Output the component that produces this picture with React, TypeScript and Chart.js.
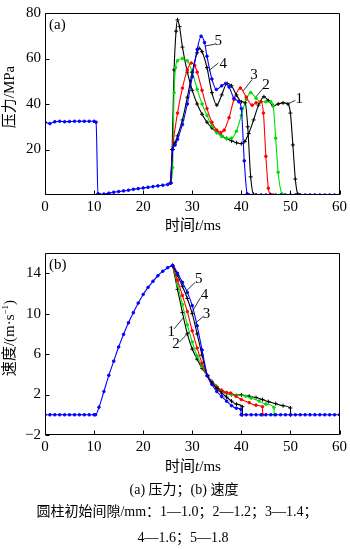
import React, { useEffect, useRef } from "react";
import { Chart, registerables } from "chart.js";

Chart.register(...registerables);

type P = [number, number];

// ---------- tick values ----------
const timeTicks = [0, 10, 20, 30, 40, 50, 60];
const pressureTicks = [20, 40, 60, 80];
const velocityTicks = [-2, 2, 6, 10, 14];

// ---------- series names / colours ----------
const seriesNames = ["1", "2", "3", "4", "5"];
const seriesColors = ["#000000", "#00dd00", "#ff0000", "#000000", "#0000ff"];

// ---------- (a) pressure, MPa : [t ms, p] ----------
const pressure1: P[] = [[25.6, 5.3], [25.9, 20], [26.3, 55], [26.7, 72], [27, 77], [27.4, 74], [28, 65], [29, 54], [30, 46], [31, 40], [32, 35.5], [33, 32], [34, 29.5], [35, 27.5], [36, 26], [37, 24.8], [38, 23.8], [39, 23], [40, 22.6], [40.7, 23.5], [41.5, 27], [42.5, 33], [43.5, 39.5], [44.6, 43.2], [45.5, 41.5], [46.5, 39.3], [47.5, 40], [48.5, 40.5], [49.5, 40], [50, 36], [50.5, 22], [51, 7], [51.5, 0.5], [52, 0]];
const pressure2: P[] = [[25.6, 5.3], [26, 12], [26.3, 45], [26.6, 56], [27, 59], [28, 60], [29, 59], [30, 54], [31, 46.5], [32, 40], [33, 35], [34, 30.5], [35, 27.5], [36, 25.7], [37, 24.8], [38, 25], [39, 28], [40, 35], [41, 42], [41.9, 45], [43, 42.5], [44, 41], [45, 41], [46, 41], [46.5, 39], [47, 25], [47.5, 10], [48.3, 0.5], [48.8, 0]];
const pressure3: P[] = [[25.6, 5.3], [26, 20], [27, 36], [28, 47], [29, 55], [29.8, 58], [30.5, 57], [31, 54], [32, 46], [33, 38], [34, 32], [35, 28.5], [35.8, 27.5], [36.5, 28.5], [37.5, 34], [38.5, 42], [39.8, 47], [41, 43], [42.2, 39.5], [43, 40.5], [44, 41], [44.5, 36], [45, 17], [45.5, 3], [45.9, 0.3], [46.5, 0]];
const pressure4: P[] = [[25.6, 5.3], [26, 20], [26.5, 23], [27, 26], [28, 33], [29, 43], [30, 54], [31, 62.5], [31.4, 64.5], [32, 63], [33, 56], [34, 45], [35, 39.5], [36, 44], [37.1, 49], [38, 48], [39, 44], [40, 41], [40.8, 40.5], [41.3, 30], [41.9, 8], [42.5, 0.3], [43, 0]];
const pressure5: P[] = [[0, 32.0], [1, 31.4], [2, 32.2], [3, 32.4], [4, 32.2], [5, 32.3], [6, 32.4], [7, 32.4], [8, 32.4], [9, 32.4], [10, 32.4], [10.4, 32.0], [10.8, 0.5], [11.2, 0.2], [12, 0.4], [13, 0.8], [14, 1.2], [15, 1.5], [16, 1.8], [17, 2.1], [18, 2.5], [19, 2.8], [20, 3.1], [21, 3.4], [22, 3.7], [23, 4.0], [24, 4.3], [25, 4.6], [25.6, 5.3], [26, 20], [26.5, 22], [27, 24.5], [28, 31], [29, 40], [30, 52], [31, 64], [31.8, 69.8], [32.5, 67], [33, 61], [34, 51], [34.9, 46.4], [36, 48], [36.8, 49], [37.5, 47.5], [38.5, 42.5], [39.5, 41], [40, 38], [40.6, 15], [41.2, 0.5], [41.6, 0], [43, 0], [44, 0], [45, 0], [46, 0], [47, 0], [48, 0], [49, 0], [50, 0], [51, 0], [52, 0], [53, 0], [54, 0], [55, 0], [56, 0], [57, 0], [58, 0], [59, 0], [60, 0]];

// ---------- (b) velocity, m/s : [t ms, v] ----------
const velocity1: P[] = [[26, 14.75], [27, 12.4], [28, 10.1], [29, 8.0], [30, 6.5], [31, 5.5], [32, 4.6], [33.1, 3.85], [34, 3.3], [35, 2.8], [36, 2.4], [37, 2.1], [38, 2.0], [40, 1.95], [41.6, 1.84], [43, 1.7], [44.3, 1.5], [45.5, 1.3], [47, 1.1], [48.5, 0.9], [50, 0.67], [50.05, 0]];
const velocity2: P[] = [[26, 14.75], [27, 12.9], [28, 10.9], [29, 8.9], [30, 7.2], [31, 5.8], [32, 4.8], [33.1, 3.85], [34, 3.25], [35, 2.75], [36, 2.4], [37, 2.15], [38, 2.0], [39, 1.95], [40.9, 1.84], [42, 1.65], [43.6, 1.36], [45, 1.05], [46.65, 0.72], [46.7, 0]];
const velocity3: P[] = [[26, 14.75], [27, 13.3], [28, 11.8], [29, 10.2], [30, 8.3], [31, 6.6], [32, 5.1], [33.1, 3.85], [34, 3.2], [35, 2.7], [36, 2.4], [37, 2.2], [37.8, 2.15], [38.9, 1.84], [40, 1.5], [41.6, 1.2], [43, 0.95], [44.3, 0.8], [44.35, 0]];
const velocity4: P[] = [[26, 14.75], [27, 13.8], [28, 12.7], [29, 11.5], [30, 10.0], [31, 8.0], [32, 5.9], [33.1, 3.85], [34, 3.15], [35, 2.6], [36, 2.15], [37, 1.75], [38, 1.35], [39, 1.05], [40.2, 0.8], [40.25, 0]];
const velocity5: P[] = [[0, 0], [1, 0], [2, 0], [3, 0], [4, 0], [5, 0], [6, 0], [7, 0], [8, 0], [9, 0], [10, 0], [10.3, 0], [11, 0.75], [12, 2.3], [13, 3.9], [14, 5.3], [15, 6.7], [16, 7.95], [17, 9.1], [18, 10.1], [19, 11.05], [20, 11.9], [21, 12.6], [22, 13.2], [23, 13.75], [24, 14.2], [25, 14.55], [26, 14.75], [27, 14.0], [28, 13.1], [29, 12.1], [30, 10.8], [31, 8.8], [32, 6.4], [33.1, 3.85], [34, 3.0], [35, 2.3], [36, 1.8], [37, 1.35], [38, 0.9], [39, 0.65], [39.9, 0.55], [39.95, 0], [41, 0], [42, 0], [43, 0], [44, 0], [45, 0], [46, 0], [47, 0], [48, 0], [49, 0], [50, 0], [51, 0], [52, 0], [53, 0], [54, 0], [55, 0], [56, 0], [57, 0], [58, 0], [59, 0], [60, 0]];

// ---------- curve labels (text pos, leader start, leader end, in data units) ----------
type Note = { text: string; at: P; from: P; to: P };
const pressureNotes: Note[] = [
  { text: "5", at: [35.3, 67.6], from: [34.6, 66.3], to: [32.7, 65.5] },
  { text: "4", at: [36.3, 57.6], from: [35.3, 58.0], to: [33.3, 54.5] },
  { text: "3", at: [42.6, 52.7], from: [42.2, 50.8], to: [40.4, 45.8] },
  { text: "2", at: [45.0, 48.5], from: [44.5, 47.1], to: [43.0, 43.2] },
  { text: "1", at: [51.8, 42.2], from: [51.0, 41.6], to: [49.6, 40.2] },
];
const velocityNotes: Note[] = [
  { text: "5", at: [31.3, 13.4], from: [30.6, 13.1], to: [28.9, 12.3] },
  { text: "4", at: [32.5, 11.85], from: [31.7, 11.6], to: [30.0, 10.2] },
  { text: "3", at: [32.9, 10.0], from: [32.2, 9.7], to: [30.5, 9.0] },
  { text: "1", at: [25.7, 8.2], from: [26.3, 8.5], to: [28.2, 9.6] },
  { text: "2", at: [26.7, 6.97], from: [27.4, 7.2], to: [29.4, 8.2] },
];

const SERIF = "'Liberation Serif', 'Times New Roman', 'Noto Sans CJK SC', serif";

const framePlugin = {
  id: "frame",
  afterDraw(chart: any, _args: any, opts: any) {
    const { ctx, chartArea: a, scales } = chart;
    const L = Math.round(a.left) + 0.5;
    const R = Math.round(a.right) - 0.5;
    const T = Math.round(a.top) + 0.5;
    const B = Math.round(a.bottom) - 0.5;
    ctx.save();
    ctx.strokeStyle = "#000";
    ctx.lineWidth = 1;
    ctx.beginPath();
    ctx.rect(L, T, R - L, B - T);
    ctx.stroke();
    ctx.beginPath();
    for (const t of scales.x.ticks) {
      const px = Math.round(scales.x.getPixelForValue(t.value)) + 0.5;
      ctx.moveTo(px, B);
      ctx.lineTo(px, B - 4);
    }
    for (const t of scales.y.ticks) {
      const py = Math.round(scales.y.getPixelForValue(t.value)) + 0.5;
      ctx.moveTo(L, py);
      ctx.lineTo(L + 4, py);
    }
    ctx.stroke();
    ctx.fillStyle = "#000";
    ctx.font = `15px ${SERIF}`;
    ctx.textAlign = "left";
    ctx.textBaseline = "middle";
    ctx.fillText(opts.tag, L + 3.5, T + 12);
    ctx.textAlign = "center";
    ctx.lineWidth = 0.8;
    for (const n of opts.notes as Note[]) {
      const x1 = scales.x.getPixelForValue(n.from[0]);
      const y1 = scales.y.getPixelForValue(n.from[1]);
      const x2 = scales.x.getPixelForValue(n.to[0]);
      const y2 = scales.y.getPixelForValue(n.to[1]);
      ctx.beginPath();
      ctx.moveTo(x1, y1);
      ctx.lineTo(x2, y2);
      ctx.stroke();
      ctx.fillText(n.text, scales.x.getPixelForValue(n.at[0]), scales.y.getPixelForValue(n.at[1]));
    }
    ctx.restore();
  },
};

function makeConfig(
  series: P[][],
  yMin: number,
  yMax: number,
  yTicks: number[],
  tag: string,
  notes: Note[],
  padTop: number,
  xHeight: number
): any {
  const orders = [4, 3, 2, 1, 0];
  const datasets = series.map((s, i) => {
    const black = seriesColors[i] === "#000000";
    return {
      label: seriesNames[i],
      data: s.map(([x, y]) => ({ x, y })),
      borderColor: seriesColors[i],
      backgroundColor: seriesColors[i],
      borderWidth: 1.1,
      pointStyle: black ? "cross" : "circle",
      pointRadius: black ? 2 : 1.3,
      pointBorderWidth: 1,
      pointBorderColor: seriesColors[i],
      pointBackgroundColor: seriesColors[i],
      cubicInterpolationMode: "monotone",
      tension: 0.4,
      order: orders[i],
      fill: false,
    };
  });
  const tickFont = { family: SERIF, size: 15 };
  return {
    type: "line",
    data: { datasets },
    plugins: [framePlugin],
    options: {
      animation: false,
      responsive: false,
      maintainAspectRatio: false,
      devicePixelRatio: 1,
      layout: { padding: { left: 0, right: 8, top: padTop, bottom: 0 } },
      plugins: {
        legend: { display: false },
        tooltip: { enabled: false },
        frame: { tag, notes },
      },
      scales: {
        x: {
          type: "linear",
          min: 0,
          max: 60,
          afterBuildTicks: (sc: any) => {
            sc.ticks = timeTicks.map((v) => ({ value: v }));
          },
          afterFit: (sc: any) => {
            sc.height = xHeight;
          },
          grid: { display: false, drawTicks: false },
          border: { display: false },
          ticks: { color: "#000", font: tickFont, padding: 3, maxRotation: 0, autoSkip: false },
        },
        y: {
          type: "linear",
          min: yMin,
          max: yMax,
          afterBuildTicks: (sc: any) => {
            sc.ticks = yTicks.map((v) => ({ value: v }));
          },
          afterFit: (sc: any) => {
            sc.width = 45;
          },
          grid: { display: false, drawTicks: false },
          border: { display: false },
          ticks: {
            color: "#000",
            font: tickFont,
            padding: 4,
            callback: (v: number) => (v < 0 ? "\u2212" + Math.abs(v) : String(v)),
          },
        },
      },
    },
  };
}

function ChartCanvas(props: { config: () => any; top: number; height: number }) {
  const ref = useRef<HTMLCanvasElement>(null);
  useEffect(() => {
    if (!ref.current) return;
    const chart = new Chart(ref.current, props.config());
    return () => chart.destroy();
  }, []);
  return (
    <canvas
      ref={ref}
      width={350}
      height={props.height}
      style={{ position: "absolute", left: 0, top: props.top, width: 350, height: props.height }}
    />
  );
}

const textBase: React.CSSProperties = {
  position: "absolute",
  whiteSpace: "nowrap",
  lineHeight: 1,
  color: "#000",
  fontFamily: SERIF,
};

function Txt(props: { cx: number; cy: number; size: number; rotate?: boolean; children: React.ReactNode }) {
  return (
    <div
      style={{
        ...textBase,
        left: props.cx,
        top: props.cy,
        fontSize: props.size,
        transform: `translate(-50%, -50%)${props.rotate ? " rotate(-90deg)" : ""}`,
      }}
    >
      {props.children}
    </div>
  );
}

export default function App() {
  return (
    <div
      style={{
        position: "absolute",
        left: 0,
        top: 0,
        width: 350,
        height: 549,
        background: "#fff",
        overflow: "hidden",
      }}
    >
      <ChartCanvas
        top={0}
        height={240}
        config={() =>
          makeConfig([pressure1, pressure2, pressure3, pressure4, pressure5], 0, 80, pressureTicks, "(a)", pressureNotes, 5, 45)
        }
      />
      <ChartCanvas
        top={240}
        height={225}
        config={() =>
          makeConfig([velocity1, velocity2, velocity3, velocity4, velocity5], -2, 16, velocityTicks, "(b)", velocityNotes, 7, 30)
        }
      />
      <Txt cx={9} cy={97} size={15} rotate>
        压力/MPa
      </Txt>
      <Txt cx={193} cy={225} size={15}>
        时间<i>t</i>/ms
      </Txt>
      <Txt cx={9} cy={338} size={15} rotate>
        速度/(m·s<sup style={{ fontSize: "0.6em", verticalAlign: "0.7em" }}>−1</sup>)
      </Txt>
      <Txt cx={193} cy={466} size={15}>
        时间<i>t</i>/ms
      </Txt>
      <Txt cx={184} cy={490} size={14}>
        (a) 压力；(b) 速度
      </Txt>
      <Txt cx={177} cy={512} size={14}>
        圆柱初始间隙/mm：1—1.0；2—1.2；3—1.4；
      </Txt>
      <Txt cx={183} cy={538} size={14}>
        4—1.6；5—1.8
      </Txt>
    </div>
  );
}
